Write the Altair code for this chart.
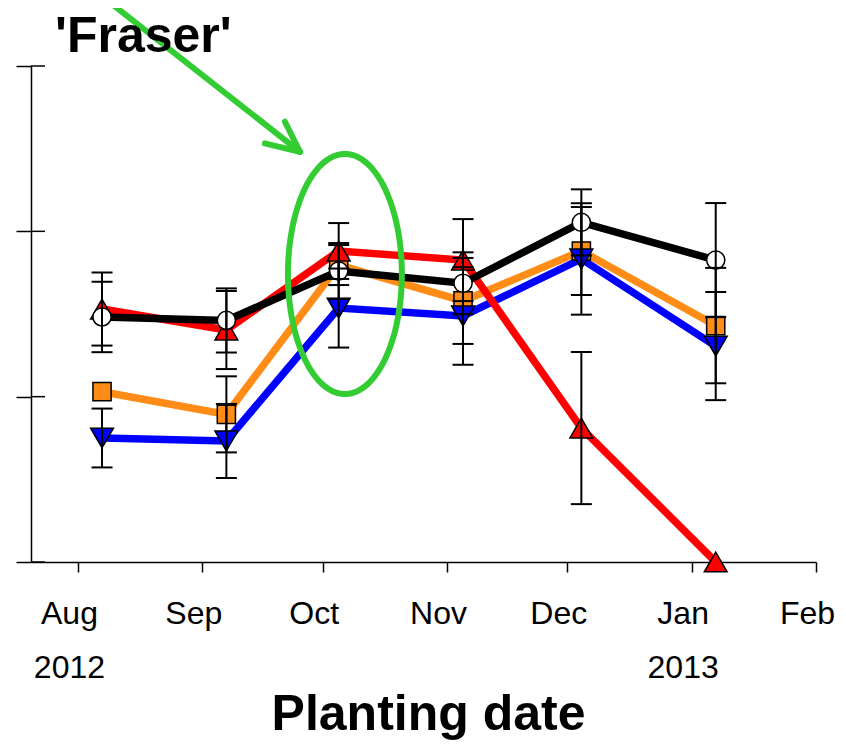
import altair as alt
import pandas as pd
import numpy as np

# ---------------- data ----------------
dates = ["2012-08-07T00:00:00", "2012-09-07T00:00:00", "2012-10-05T00:00:00",
         "2012-11-05T00:00:00", "2012-12-04T12:00:00", "2013-01-07T00:00:00"]

black_vals = [148.2, 146.1, 176.0, 168.6, 205.4, 182.6]
black_err = [21.3, 19.4, 16.9, 18.7, 20.0, 34.5]
red_vals = [153.0, 140.3, 188.1, 182.6, 81.0, 0.0]
red_err = [22.1, 23.6, 16.9, 24.8, 46.0, 0.0]
orange_vals = [103.0, 89.3, 179.6, 157.9, 188.1, 143.0]
orange_err = [0.0, 23.0, 12.1, 26.0, 26.6, 34.9]
blue_vals = [75.0, 73.2, 153.6, 148.8, 183.3, 130.6]
blue_err = [17.8, 22.4, 23.9, 29.5, 33.7, 32.7]

month_labels = ["Aug", "Sep", "Oct", "Nov", "Dec", "Jan", "Feb"]
year_labels = ["2012", "", "", "", "", "2013", ""]
tick_years = [2012, 2012, 2012, 2012, 2012, 2013, 2013]
tick_months = [8, 9, 10, 11, 12, 1, 2]
y_ticks = [0, 100, 200, 300]

title_text = "'Fraser'"
x_title = "Planting date"

# annotation geometry (days after 2012-08-01, value units)
arrow_start = (7.2, 339.9)
arrow_tip = (55.35, 248.1)
arrow_barb1 = (51.6, 266.3)
arrow_barb2 = (46.6, 253.2)
ellipse_center = (66.55, 174.2)
ellipse_radius = (14.2, 72.6)

# ---------------- tables ----------------
series = [
    # name, values, errors, line colour, shape, fill
    ("orange", orange_vals, orange_err, "#ff8c17", "square", "#ff8c17"),
    ("blue", blue_vals, blue_err, "#0000ff", "triangle-down", "#0000ff"),
    ("red", red_vals, red_err, "#ff0000", "triangle-up", "#ff0000"),
    ("black", black_vals, black_err, "#000000", "circle", "#ffffff"),
]

base_day = pd.Timestamp("2012-08-01")
x_dom = [alt.DateTime(year=2012, month=7, date=20, hours=7),
         alt.DateTime(year=2013, month=2, date=1)]
xscale = alt.Scale(domain=x_dom)
yscale = alt.Scale(domain=[0, 300], nice=False, zero=False)

tick_vals = [alt.DateTime(year=y, month=m, date=1) for y, m in zip(tick_years, tick_months)]
expr_parts = []
for m, lab, yr in zip(tick_months, month_labels, year_labels):
    txt = f"['{lab}','{yr}']" if yr else f"'{lab}'"
    expr_parts.append(f"month(datum.value)=={m - 1} ? {txt} : ")
label_expr = "".join(expr_parts) + "''"

FONT = "Liberation Sans"

x_axis = alt.Axis(
    values=tick_vals, labelExpr=label_expr, grid=False,
    tickSize=10, tickWidth=1.5, tickColor="black",
    domainColor="black", domainWidth=1.5,
    labelFont=FONT, labelFontSize=32, labelColor="black",
    labelPadding=26, labelLineHeight=54, labelOffset=-9,
    labelOverlap=False, labelFlush=False, labelBound=False,
    title=x_title, titleFont=FONT, titleFontSize=50, titleFontWeight="bold",
    titleColor="black", titleY=167, titleX=397, titleBaseline="alphabetic",
    titleAlign="center",
)
y_axis = alt.Axis(values=y_ticks, labels=False, tickSize=15, tickWidth=1.5,
                  tickColor="black", domainColor="black", domainWidth=1.5,
                  grid=False, title=None)


def X(field="date:T"):
    return alt.X(field, scale=xscale, axis=x_axis)


def Y(field):
    return alt.Y(field, scale=yscale, axis=y_axis)


layers = []
# lines
for name, vals, errs, col, shp, fill in series:
    df = pd.DataFrame({"date": pd.to_datetime(dates), "v": vals})
    layers.append(alt.Chart(df).mark_line(color=col, strokeWidth=7.5).encode(x=X(), y=Y("v:Q")))

# markers
for name, vals, errs, col, shp, fill in series:
    df = pd.DataFrame({"date": pd.to_datetime(dates), "v": vals})
    size = 520 if "triangle" in shp else 330
    layers.append(alt.Chart(df).mark_point(shape=shp, filled=True, fill=fill, stroke="black",
                                           strokeWidth=1.5, size=size, opacity=1).encode(
        x=X(), y=Y("v:Q")))

# error bars
rows = []
for name, vals, errs, col, shp, fill in series:
    for d, v, e in zip(dates, vals, errs):
        if e > 0:
            rows.append({"date": pd.Timestamp(d), "lo": v - e, "hi": v + e})
err_df = pd.DataFrame(rows)
layers.append(alt.Chart(err_df).mark_rule(color="black", strokeWidth=2).encode(
    x=X(), y=Y("lo:Q"), y2="hi:Q"))
cap_df = pd.concat([err_df[["date", "lo"]].rename(columns={"lo": "c"}),
                    err_df[["date", "hi"]].rename(columns={"hi": "c"})])
layers.append(alt.Chart(cap_df).mark_tick(orient="horizontal", color="black", size=21,
                                          thickness=2, opacity=1).encode(
    x=X(), y=Y("c:Q")))

# inner halves of the y ticks (ticks cross the axis)
ytick_df = pd.DataFrame({"v": y_ticks})
layers.append(alt.Chart(ytick_df).mark_rule(color="black", strokeWidth=1.5).encode(
    y=Y("v:Q"), x=alt.value(0), x2=alt.value(14)))

# green ellipse
t = np.linspace(0, 2 * np.pi, 145)
ell_df = pd.DataFrame({
    "date": base_day + pd.to_timedelta(ellipse_center[0] + ellipse_radius[0] * np.cos(t), unit="D"),
    "v": ellipse_center[1] + ellipse_radius[1] * np.sin(t),
    "i": np.arange(len(t)),
})
layers.append(alt.Chart(ell_df).mark_line(color="#33cc33", strokeWidth=6).encode(
    x=X(), y=Y("v:Q"), order="i:Q"))

# green arrow
arr_rows = []
for seg, p in enumerate([arrow_start, arrow_barb1, arrow_barb2]):
    for k, q in enumerate([p, arrow_tip]):
        arr_rows.append({"seg": seg, "k": k,
                         "date": base_day + pd.to_timedelta(q[0], unit="D"), "v": q[1]})
arr_df = pd.DataFrame(arr_rows)
layers.append(alt.Chart(arr_df).mark_line(color="#33cc33", strokeWidth=6, strokeCap="round").encode(
    x=X(), y=Y("v:Q"), detail="seg:N", order="k:Q"))

# panel title
title_df = pd.DataFrame({"t": [title_text]})
layers.append(alt.Chart(title_df).mark_text(font=FONT, fontSize=50, fontWeight="bold",
                                            align="left", baseline="alphabetic", color="black").encode(
    text="t:N", x=alt.value(24), y=alt.value(-14)))

chart = alt.layer(*layers).properties(
    width=785, height=496,
    background="white",
    autosize=alt.AutoSizeParams(type="none"),
    padding={"left": 23, "top": 58, "right": 22, "bottom": 180},
).configure_view(stroke=None)

chart.save("out.html", embed_options={"renderer": "svg", "actions": False})
